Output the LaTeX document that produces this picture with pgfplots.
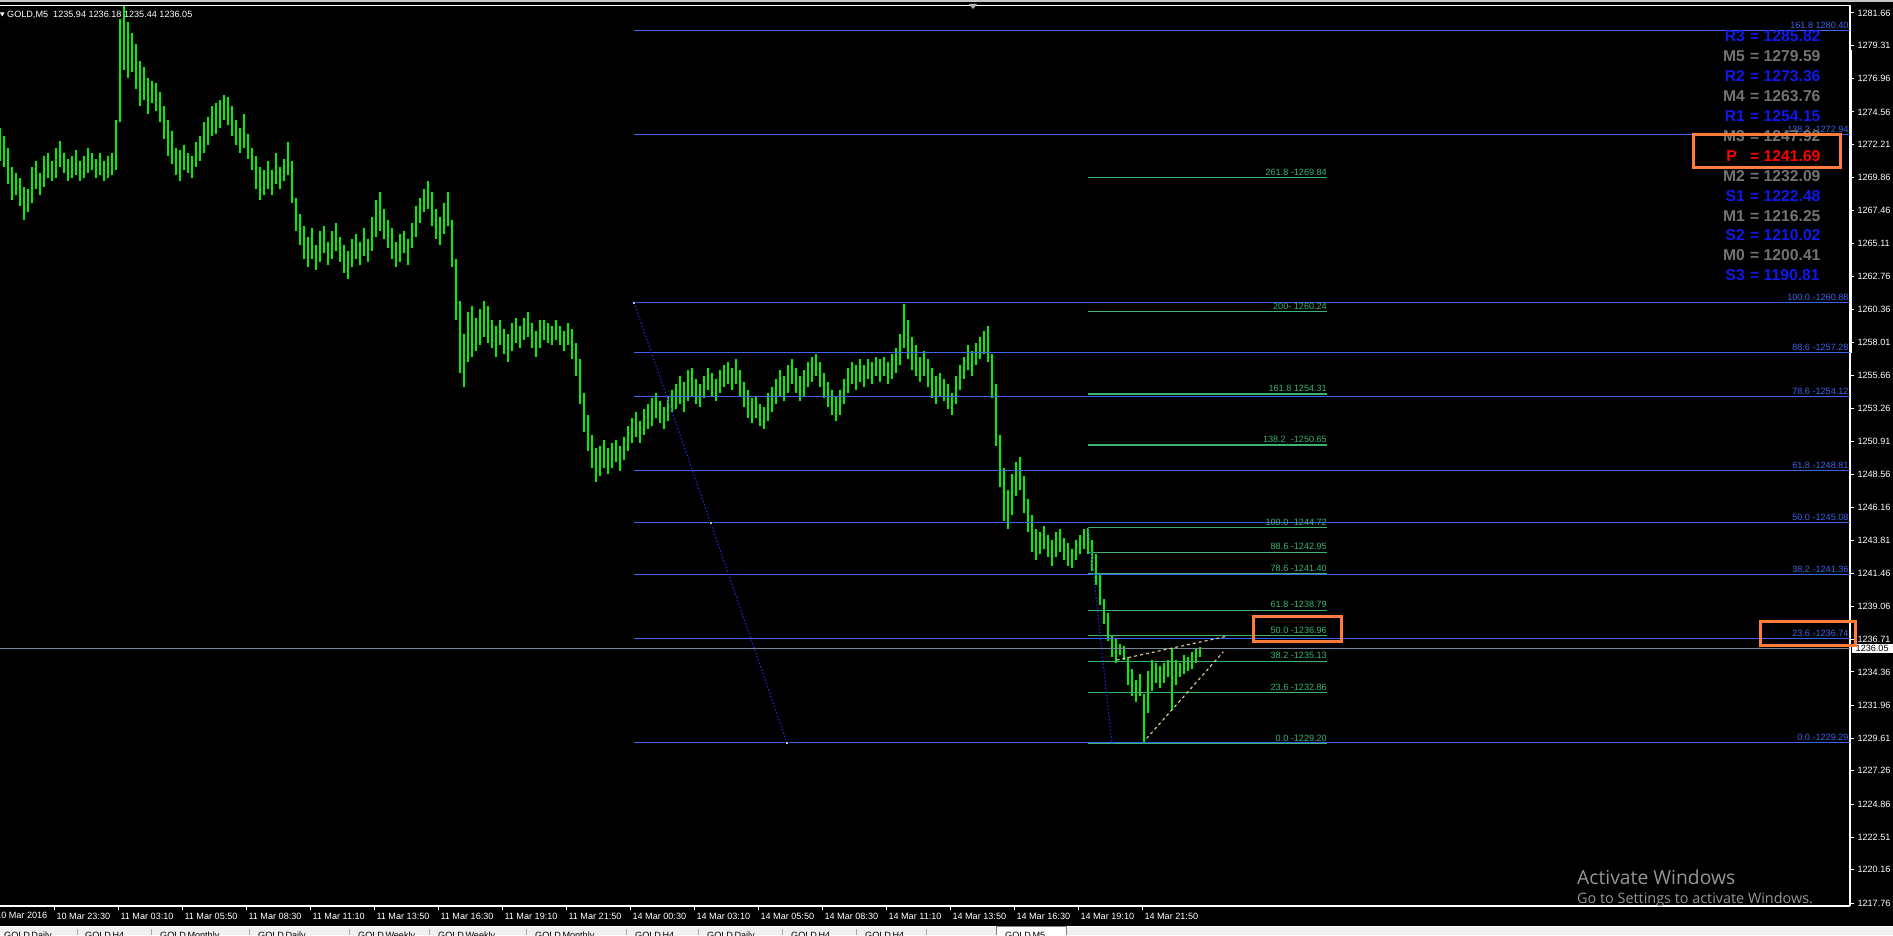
\documentclass[border=0pt]{standalone}
\usepackage{pgfplots}
\pgfplotsset{compat=1.18}
\usepackage{pgfplotstable}
\usepackage{fontspec}
\setmainfont{Liberation Sans}
\newfontfamily\wmfont{Open Sans}

\definecolor{barg}{RGB}{0,240,0}
\definecolor{fibblue}{RGB}{60,100,235}
\definecolor{fibgreen}{RGB}{60,179,113}
\definecolor{anchorblue}{RGB}{30,40,225}
\definecolor{khaki}{RGB}{220,210,150}
\definecolor{pricegray}{RGB}{120,136,153}
\definecolor{pvb}{RGB}{15,25,235}
\definecolor{pvg}{RGB}{115,115,115}
\definecolor{pvr}{RGB}{255,0,0}
\definecolor{hilite}{RGB}{255,125,60}
\definecolor{wm}{RGB}{150,150,150}
\definecolor{tabbar}{RGB}{240,240,240}

% GOLD M5 bars, one row per two 5-minute bars: index, low, high
\pgfplotstableread{
b lo hi
0 1271.0 1273.4
2 1270.6 1272.8
4 1269.4 1272.0
6 1268.2 1270.6
8 1268.6 1270.2
10 1267.8 1269.8
12 1266.8 1269.2
14 1267.4 1269.0
16 1268.0 1270.6
18 1269.0 1271.0
20 1268.6 1270.2
22 1269.2 1271.4
24 1269.8 1271.6
26 1269.6 1271.0
28 1269.8 1272.0
30 1270.6 1272.5
32 1270.2 1271.6
34 1269.6 1271.2
36 1269.8 1271.4
38 1270.0 1271.8
40 1269.6 1271.0
42 1269.8 1271.4
44 1270.2 1272.0
46 1270.4 1271.6
48 1269.8 1271.2
50 1270.0 1271.6
52 1269.6 1271.0
54 1269.8 1271.4
56 1270.0 1271.6
58 1270.4 1274.0
60 1273.8 1281.2
62 1277.6 1282.2
64 1277.0 1281.0
66 1277.4 1280.2
68 1276.2 1279.4
70 1275.0 1278.2
72 1275.4 1277.8
74 1274.4 1277.0
76 1275.2 1276.8
78 1274.6 1276.6
80 1273.8 1276.0
82 1272.6 1275.0
84 1271.4 1274.0
86 1270.8 1273.2
88 1270.0 1272.0
90 1269.6 1271.8
92 1270.4 1272.2
94 1270.2 1271.6
96 1269.8 1271.4
98 1270.6 1272.4
100 1271.0 1272.8
102 1271.6 1273.8
104 1272.2 1274.2
106 1272.8 1275.0
108 1273.0 1275.2
110 1273.4 1275.4
112 1274.0 1275.8
114 1273.6 1275.6
116 1272.8 1275.0
118 1272.2 1274.0
120 1271.6 1273.4
122 1272.0 1274.4
124 1271.2 1273.0
126 1270.4 1272.0
128 1269.0 1271.4
130 1268.2 1270.6
132 1268.6 1270.4
134 1269.0 1271.0
136 1268.6 1270.4
138 1269.4 1271.6
140 1269.0 1270.6
142 1269.6 1271.2
144 1270.0 1272.4
146 1268.0 1271.0
148 1266.0 1268.4
150 1265.0 1267.2
152 1264.0 1266.4
154 1263.4 1265.6
156 1264.0 1266.2
158 1263.2 1265.0
160 1263.8 1266.0
162 1264.4 1266.4
164 1263.6 1265.2
166 1264.0 1266.0
168 1264.6 1266.6
170 1263.8 1265.6
172 1263.0 1265.0
174 1262.6 1264.6
176 1263.4 1265.4
178 1264.0 1265.8
180 1263.6 1265.2
182 1264.2 1266.2
184 1263.8 1265.4
186 1264.6 1267.0
188 1265.6 1268.2
190 1266.0 1268.8
192 1265.4 1267.6
194 1264.8 1266.8
196 1264.0 1266.2
198 1263.4 1265.2
200 1263.8 1265.8
202 1264.4 1266.0
204 1263.6 1265.4
206 1264.8 1266.6
208 1265.6 1267.8
210 1266.6 1268.4
212 1267.4 1269.0
214 1267.6 1269.6
216 1266.4 1268.8
218 1265.4 1267.6
220 1265.0 1267.0
222 1265.8 1268.0
224 1266.4 1268.8
226 1263.4 1266.8
228 1259.6 1264.0
230 1255.8 1261.0
232 1254.8 1258.6
234 1256.6 1260.2
236 1257.0 1260.6
238 1257.4 1259.8
240 1257.8 1260.4
242 1258.4 1261.0
244 1258.0 1260.6
246 1257.6 1259.6
248 1257.0 1259.2
250 1257.8 1259.6
252 1257.2 1259.0
254 1256.6 1258.6
256 1257.4 1259.4
258 1258.0 1259.8
260 1257.6 1259.2
262 1258.2 1259.8
264 1258.4 1260.2
266 1257.6 1259.4
268 1257.0 1258.8
270 1257.6 1259.6
272 1258.2 1259.6
274 1258.0 1259.4
276 1257.8 1259.2
278 1258.2 1259.6
280 1257.8 1259.2
282 1257.4 1258.8
284 1257.8 1259.4
286 1256.8 1259.0
288 1255.6 1258.0
290 1253.6 1256.8
292 1251.6 1254.4
294 1250.2 1252.8
296 1249.0 1251.4
298 1248.0 1250.4
300 1248.4 1250.6
302 1249.0 1251.0
304 1248.6 1250.4
306 1249.0 1250.8
308 1249.4 1251.0
310 1248.8 1250.6
312 1249.6 1251.2
314 1250.2 1252.0
316 1250.8 1252.6
318 1251.2 1253.0
320 1250.8 1252.4
322 1251.4 1253.2
324 1251.8 1253.6
326 1252.0 1254.0
328 1252.6 1254.4
330 1252.2 1253.8
332 1251.8 1253.4
334 1252.4 1254.2
336 1253.0 1254.6
338 1253.2 1255.0
340 1253.6 1255.6
342 1253.0 1255.2
344 1253.8 1256.0
346 1254.2 1256.2
348 1253.6 1255.4
350 1253.4 1255.0
352 1254.0 1255.6
354 1254.6 1256.2
356 1254.2 1255.8
358 1253.8 1255.4
360 1254.4 1256.0
362 1254.8 1256.4
364 1255.0 1256.6
366 1254.6 1256.2
368 1255.0 1256.8
370 1254.2 1256.0
372 1253.4 1255.2
374 1252.6 1254.6
376 1252.2 1254.0
378 1252.6 1254.2
380 1252.0 1253.6
382 1251.8 1253.4
384 1252.4 1254.4
386 1253.0 1254.8
388 1253.6 1255.4
390 1254.2 1256.0
392 1253.8 1255.6
394 1254.4 1256.4
396 1255.0 1256.8
398 1254.4 1256.2
400 1253.8 1255.6
402 1254.2 1256.0
404 1254.8 1256.6
406 1255.2 1257.0
408 1255.6 1257.2
410 1254.8 1256.6
412 1254.0 1255.8
414 1253.4 1255.2
416 1252.8 1254.6
418 1252.4 1254.2
420 1252.8 1254.6
422 1253.6 1255.4
424 1254.4 1256.2
426 1255.0 1256.6
428 1254.6 1256.4
430 1255.2 1256.8
432 1254.8 1256.4
434 1255.4 1256.8
436 1255.0 1256.6
438 1255.6 1257.0
440 1255.2 1256.8
442 1255.6 1257.0
444 1255.0 1256.6
446 1255.4 1257.2
448 1255.8 1257.6
450 1256.4 1258.6
452 1257.6 1260.8
454 1256.8 1259.6
456 1256.0 1258.4
458 1255.6 1257.8
460 1255.2 1257.0
462 1255.6 1257.4
464 1254.8 1256.8
466 1254.0 1256.2
468 1253.6 1255.6
470 1254.2 1255.8
472 1253.8 1255.4
474 1253.2 1255.0
476 1252.8 1254.4
478 1253.6 1255.6
480 1254.6 1256.4
482 1255.4 1257.0
484 1256.0 1257.8
486 1255.6 1257.4
488 1256.4 1258.0
490 1256.8 1258.4
492 1257.2 1258.8
494 1256.6 1259.2
496 1254.0 1257.2
498 1250.6 1255.0
500 1247.6 1251.4
502 1245.2 1249.0
504 1244.6 1247.4
506 1245.6 1248.6
508 1247.0 1249.4
510 1247.4 1249.8
512 1245.8 1248.4
514 1244.4 1246.8
516 1243.0 1245.6
518 1242.4 1244.6
520 1242.8 1244.4
522 1243.2 1244.8
524 1242.6 1244.2
526 1242.0 1243.8
528 1242.6 1244.4
530 1243.0 1244.6
532 1242.4 1244.0
534 1242.0 1243.6
536 1241.8 1243.2
538 1242.4 1243.8
540 1242.8 1244.2
542 1243.2 1244.6
544 1242.8 1244.7
546 1241.6 1243.8
548 1240.6 1242.8
550 1239.2 1241.4
552 1237.8 1239.6
554 1236.6 1238.6
556 1235.4 1237.0
558 1235.0 1236.8
560 1235.6 1236.4
562 1235.2 1236.2
564 1233.4 1235.4
566 1232.6 1234.6
568 1232.2 1233.8
570 1232.6 1234.2
572 1229.3 1232.8
574 1231.4 1234.4
576 1233.0 1235.2
578 1233.6 1235.0
580 1233.2 1234.8
582 1233.6 1235.0
584 1234.0 1235.2
586 1231.6 1236.1
588 1233.4 1235.2
590 1234.0 1235.0
592 1234.2 1235.6
594 1234.4 1235.4
596 1234.6 1235.8
598 1235.0 1236.0
600 1235.44 1236.18
}\bars

\begin{document}
\begin{tikzpicture}[font=\fontsize{9.1}{10}\selectfont]
\useasboundingbox (0,0) rectangle (1893pt,935pt);
\fill[black] (0,0) rectangle (1893pt,935pt);
\begin{axis}[
    at={(0pt,29pt)}, anchor=south west,
    scale only axis, width=1850pt, height=900pt,
    xmin=0, xmax=925, ymin=1217.56, ymax=1282.16,
    axis x line*=bottom, axis y line*=right,
    axis line style={white, line width=1.2pt, -},
    tick style={white, line width=1pt},
    tick align=outside, major tick length=4pt,
    ticklabel style={font=\fontsize{9.1}{10}\selectfont, text=white},
    xticklabel style={anchor=north west, xshift=-1.5pt},
    yticklabel style={anchor=west},
    xtick={27.25,59.25,91.25,123.25,155.25,187.25,219.25,251.25,283.25,
           315.25,347.25,379.25,411.25,443.25,475.25,507.25,539.25,571.25},
    xticklabels={10 Mar 23:30,11 Mar 03:10,11 Mar 05:50,11 Mar 08:30,
           11 Mar 11:10,11 Mar 13:50,11 Mar 16:30,11 Mar 19:10,11 Mar 21:50,
           14 Mar 00:30,14 Mar 03:10,14 Mar 05:50,14 Mar 08:30,14 Mar 11:10,
           14 Mar 13:50,14 Mar 16:30,14 Mar 19:10,14 Mar 21:50},
    ytick={1281.66,1279.31,1276.96,1274.56,1272.21,1269.86,1267.46,1265.11,
           1262.76,1260.36,1258.01,1255.66,1253.26,1250.91,1248.56,1246.16,
           1243.81,1241.46,1239.06,1236.71,1234.36,1231.96,1229.61,1227.26,
           1224.86,1222.51,1220.16,1217.76},
    yticklabels={1281.66,1279.31,1276.96,1274.56,1272.21,1269.86,1267.46,1265.11,
           1262.76,1260.36,1258.01,1255.66,1253.26,1250.91,1248.56,1246.16,
           1243.81,1241.46,1239.06,1236.71,1234.36,1231.96,1229.61,1227.26,
           1224.86,1222.51,1220.16,1217.76},
]
% price bars (high-low)
\addplot[barg, line width=2pt, quiver={u=0, v=\thisrow{hi}-\thisrow{lo}}]
    table[x=b, y=lo] {\bars};

% current price
\addplot[pricegray, line width=1.2pt] coordinates {(0,1236.05) (925,1236.05)};

% blue Fibonacci set (1260.88 -> 1229.29)
\pgfplotsinvokeforeach{1280.40,1272.94,1260.88,1257.28,1254.12,1248.81,1245.08,1241.36,1236.74,1229.29}{
  \addplot[fibblue, line width=1.2pt] coordinates {(317,#1) (925,#1)};
}
% green Fibonacci set (1244.72 -> 1229.20)
\pgfplotsinvokeforeach{1269.84,1260.24,1254.31,1250.65,1244.72,1242.95,1241.40,1238.79,1236.96,1235.13,1232.86,1229.20}{
  \addplot[fibgreen, line width=1.2pt] coordinates {(544,#1) (663.5,#1)};
}

% anchor lines of the two sets
\addplot[anchorblue, line width=1.1pt, dash pattern=on 1.5pt off 2pt]
    coordinates {(317,1260.88) (393.5,1229.29)};
\addplot[only marks, mark=square*, mark size=1.5pt, mark options={fill=blue!25!white, draw=none}]
    coordinates {(317,1260.88) (355.3,1245.08) (393.5,1229.29)};
\addplot[anchorblue, line width=1.1pt, dash pattern=on 1.5pt off 2pt]
    coordinates {(544.3,1244.72) (556,1229.20)};

% triangle
\addplot[khaki, line width=1.1pt, dash pattern=on 3pt off 3pt]
    coordinates {(558.3,1235.21) (612.5,1236.89)};
\addplot[khaki, line width=1.1pt, dash pattern=on 3pt off 3pt]
    coordinates {(573.3,1229.59) (611.7,1235.81)};

% level labels
\begin{scope}[every node/.style={anchor=south east, inner sep=0pt, yshift=2pt}]
\node[text=fibblue] at (axis cs:924.35,1280.40) {161.8 1280.40};
\node[text=fibblue] at (axis cs:924.35,1272.94) {138.2 -1272.94};
\node[text=fibblue] at (axis cs:924.35,1260.88) {100.0 -1260.88};
\node[text=fibblue] at (axis cs:924.35,1257.28) {88.6 -1257.28};
\node[text=fibblue] at (axis cs:924.35,1254.12) {78.6 -1254.12};
\node[text=fibblue] at (axis cs:924.35,1248.81) {61.8 -1248.81};
\node[text=fibblue] at (axis cs:924.35,1245.08) {50.0 -1245.08};
\node[text=fibblue] at (axis cs:924.35,1241.36) {38.2 -1241.36};
\node[text=fibblue] at (axis cs:924.35,1236.74) {23.6 -1236.74};
\node[text=fibblue] at (axis cs:924.35,1229.29) {0.0 -1229.29};
\node[text=fibgreen] at (axis cs:663.5,1269.84) {261.8 -1269.84};
\node[text=fibgreen] at (axis cs:663.5,1260.24) {200- 1260.24};
\node[text=fibgreen] at (axis cs:663.5,1254.31) {161.8 1254.31};
\node[text=fibgreen] at (axis cs:663.5,1250.65) {138.2~ -1250.65};
\node[text=fibgreen] at (axis cs:663.5,1244.72) {100.0 -1244.72};
\node[text=fibgreen] at (axis cs:663.5,1242.95) {88.6 -1242.95};
\node[text=fibgreen] at (axis cs:663.5,1241.40) {78.6 -1241.40};
\node[text=fibgreen] at (axis cs:663.5,1238.79) {61.8 -1238.79};
\node[text=fibgreen] at (axis cs:663.5,1236.96) {50.0 -1236.96};
\node[text=fibgreen] at (axis cs:663.5,1235.13) {38.2 -1235.13};
\node[text=fibgreen] at (axis cs:663.5,1232.86) {23.6 -1232.86};
\node[text=fibgreen] at (axis cs:663.5,1229.20) {0.0 -1229.20};
\end{scope}
\end{axis}

% screen furniture, in pixel units measured from the top left
\begin{scope}[x=1pt, y=-1pt, yshift=935pt]
\fill[gray!45] (0,0) rectangle (1893,2.5);
\draw[white, line width=1.2pt] (0,5.5) -- (1850.6,5.5);
\draw[white, line width=2pt] (1851,50) -- (1851,353);
\fill[gray!60] (969,4) -- (977,4) -- (973,9) -- cycle;
\fill[white] (0,12.5) -- (4.5,12.5) -- (2.2,16.5) -- cycle;
\node[anchor=west, inner sep=0pt, text=white] at (7,15)
    {GOLD,M5~~1235.94 1236.18 1235.44 1236.05};
\node[anchor=north west, inner sep=0pt, text=white] at (-4,912) {10 Mar 2016};

% pivot levels
\foreach \n/\v/\c [count=\i from 0] in {R3/1285.82/pvb, M5/1279.59/pvg,
    R2/1273.36/pvb, M4/1263.76/pvg, R1/1254.15/pvb, M3/1247.92/pvg,
    P\kern8pt\null/1241.69/pvr, M2/1232.09/pvg, S1/1222.48/pvb, M1/1216.25/pvg,
    S2/1210.02/pvb, M0/1200.41/pvg, S3/1190.81/pvb}{
  \node[anchor=east, inner sep=0pt, text=\c, font=\fontsize{15.7}{18}\selectfont\bfseries]
      at (1745,36.3+19.93*\i) {\n};
  \node[anchor=west, inner sep=0pt, text=\c, font=\fontsize{15.7}{18}\selectfont\bfseries]
      at (1750,36.3+19.93*\i) {= \v};
}

% price tag on the scale
\fill[white] (1852,644) rectangle (1893,653.5);
\node[anchor=west, inner sep=0pt, text=black] at (1855.5,648.8) {1236.05};

% highlight boxes
\draw[hilite, line width=3pt] (1693,135) rectangle (1840,168);
\draw[hilite, line width=3pt] (1253,617) rectangle (1341,642);
\draw[hilite, line width=3pt] (1760,622) rectangle (1855,646);

% watermark
\node[anchor=west, inner sep=0pt, text=wm, font=\wmfont\fontsize{19.3}{22}\selectfont]
    at (1577,877) {Activate Windows};
\node[anchor=west, inner sep=0pt, text=wm, font=\wmfont\fontsize{14.4}{16}\selectfont]
    at (1577,900) {Go to Settings to activate Windows.};

% tab bar
\fill[tabbar] (0,926) rectangle (1893,935);
\draw[white, line width=1pt] (0,926.5) -- (1893,926.5);
\fill[white] (996,926) rectangle (1066,935);
\draw[gray, line width=0.8pt] (996,935) -- (996,926.5) -- (1066,926.5) -- (1066,935);
\foreach \x in {77,151,249,349,429,526,626,698,782,856,926}{
  \draw[gray!70, line width=0.8pt] (\x,929) -- (\x,935);
}
\foreach \x/\t in {4/GOLD\,Daily, 85/GOLD\,H4, 160/GOLD\,Monthly, 258/GOLD\,Daily,
    358/GOLD\,Weekly, 438/GOLD\,Weekly, 535/GOLD\,Monthly, 635/GOLD\,H4,
    707/GOLD\,Daily, 791/GOLD\,H4, 865/GOLD\,H4, 1005/GOLD\,M5}{
  \node[anchor=north west, inner sep=0pt, text=black] at (\x,932) {\t};
}
\end{scope}
\end{tikzpicture}
\end{document}
